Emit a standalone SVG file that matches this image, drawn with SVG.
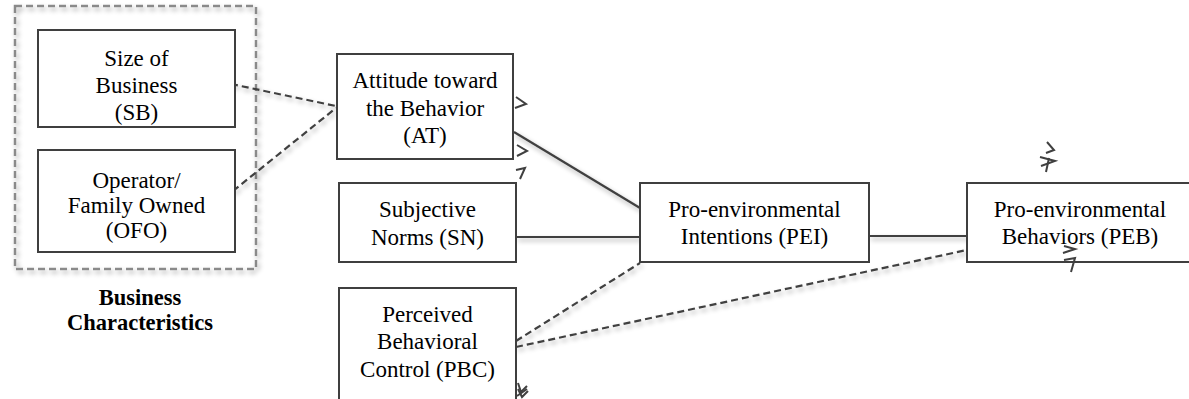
<svg xmlns="http://www.w3.org/2000/svg" width="1189" height="399" viewBox="0 0 1189 399">
<style>
.box{fill:#fff;stroke:#3f3f3f;stroke-width:2}
.c{fill:none;stroke:#404040;stroke-width:2.2}
.d{stroke-dasharray:7 4}
.m{fill:none;stroke:#404040;stroke-width:2;stroke-linejoin:miter}
</style>
<defs>
<filter id="sh" x="-10%" y="-30%" width="120%" height="160%">
<feGaussianBlur in="SourceAlpha" stdDeviation="2.5"/>
<feOffset dx="2" dy="3" result="b"/>
<feComponentTransfer><feFuncA type="linear" slope="0.35"/></feComponentTransfer>
<feMerge><feMergeNode/><feMergeNode in="SourceGraphic"/></feMerge>
</filter>
</defs>
<rect width="1189" height="399" fill="#fff"/>
<g id="group-business">
<rect x="15" y="6" width="241" height="263" fill="none" stroke="#8a8a8a" stroke-width="2.5" stroke-dasharray="7 4" filter="url(#sh)"/>
<text x="140" y="305" font-family="Liberation Serif, Times New Roman, serif" font-size="22.5" font-weight="bold" text-anchor="middle" fill="#000">Business</text>
<text x="140" y="330" font-family="Liberation Serif, Times New Roman, serif" font-size="22.5" font-weight="bold" text-anchor="middle" fill="#000">Characteristics</text>
</g>
<g id="connectors" filter="url(#sh)">
<line class="c d" x1="231" y1="84" x2="336" y2="106"/>
<line class="c d" x1="233" y1="191" x2="336" y2="108"/>
<line class="c" x1="514" y1="132" x2="640" y2="208"/>
<line class="c" x1="516" y1="237" x2="640" y2="237"/>
<line class="c d" x1="516" y1="341" x2="640" y2="263"/>
<line class="c d" x1="516" y1="347" x2="967" y2="250"/>
<line class="c" x1="869" y1="236" x2="967" y2="236"/>
</g>
<g id="node-sb" font-family="Liberation Serif, Times New Roman, serif" font-size="23" text-anchor="middle" fill="#000">
<rect class="box" x="38" y="30" width="197" height="97"/>
<text x="136.5" y="66">Size of</text>
<text x="136.5" y="93">Business</text>
<text x="136.5" y="120">(SB)</text>
</g>
<g id="node-ofo" font-family="Liberation Serif, Times New Roman, serif" font-size="23" text-anchor="middle" fill="#000">
<rect class="box" x="38" y="150" width="197" height="102"/>
<text x="136.5" y="188">Operator/</text>
<text x="136.5" y="213">Family Owned</text>
<text x="136.5" y="238">(OFO)</text>
</g>
<g id="node-at" font-family="Liberation Serif, Times New Roman, serif" font-size="23" text-anchor="middle" fill="#000">
<rect class="box" x="337" y="54" width="176" height="105"/>
<text x="425" y="88">Attitude toward</text>
<text x="425" y="116">the Behavior</text>
<text x="425" y="143">(AT)</text>
</g>
<g id="node-sn" font-family="Liberation Serif, Times New Roman, serif" font-size="23" text-anchor="middle" fill="#000">
<rect class="box" x="339" y="183" width="177" height="79"/>
<text x="427.5" y="217">Subjective</text>
<text x="427.5" y="245">Norms (SN)</text>
</g>
<g id="node-pbc" font-family="Liberation Serif, Times New Roman, serif" font-size="23" text-anchor="middle" fill="#000">
<rect class="box" x="339" y="288" width="177" height="125"/>
<text x="427.5" y="322">Perceived</text>
<text x="427.5" y="349">Behavioral</text>
<text x="427.5" y="377">Control (PBC)</text>
</g>
<g id="node-pei" font-family="Liberation Serif, Times New Roman, serif" font-size="23" text-anchor="middle" fill="#000">
<rect class="box" x="640" y="183" width="229" height="79"/>
<text x="754.5" y="217">Pro-environmental</text>
<text x="754.5" y="244">Intentions (PEI)</text>
</g>
<g id="node-peb" font-family="Liberation Serif, Times New Roman, serif" font-size="23" text-anchor="middle" fill="#000">
<rect class="box" x="967" y="183" width="228" height="79"/>
<text x="1080" y="217">Pro-environmental</text>
<text x="1080" y="244">Behaviors (PEB)</text>
</g>
<g id="stray-arrowheads">
<polyline class="m" points="516,97 526,104 515,108"/>
<polyline class="m" points="517,145 527,151 517,156"/>
<polyline class="m" points="516,170 525,168 520,179"/>
<polyline class="m" points="518,383 521,392 527,386"/>
<polyline class="m" points="518,389 522,397 528,391"/>
<line class="m" x1="517" y1="396" x2="527" y2="389"/>
<polyline class="m" points="1047,142 1054,150 1046,153"/>
<polyline class="m" points="1040,157 1055,161 1041,166"/>
<line class="m" x1="1049" y1="158" x2="1046" y2="172"/>
<polyline class="m" points="1064,246 1075,249 1063,253"/>
<polyline class="m" points="1064,260 1075,258 1071,272"/>
</g>
</svg>
